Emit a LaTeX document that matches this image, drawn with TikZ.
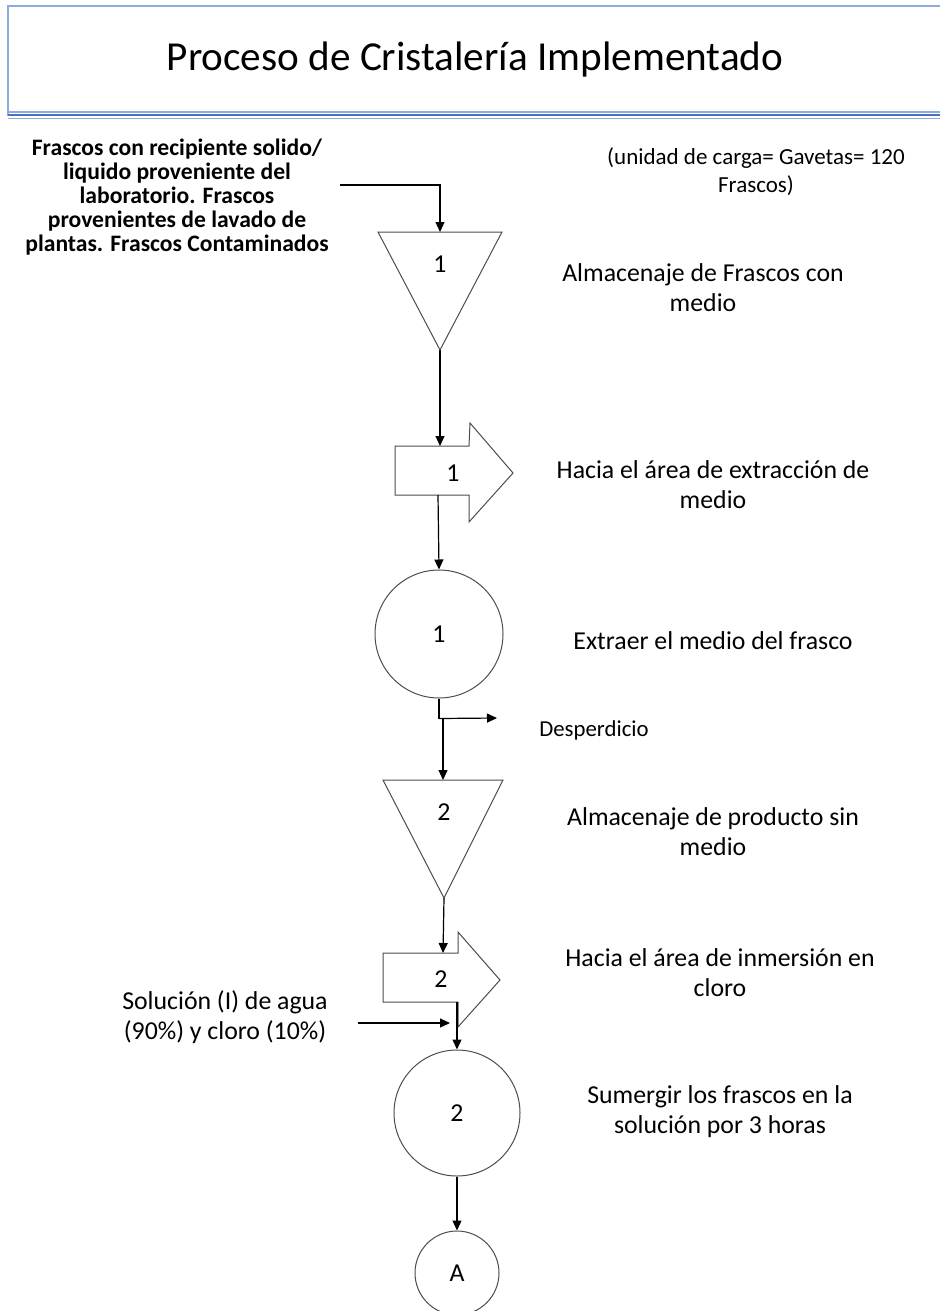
\documentclass[tikz,border=0pt]{standalone}
\usepackage{fontspec}
\setmainfont{Carlito}
\usetikzlibrary{arrows.meta,positioning,calc}
\definecolor{azulclaro}{HTML}{8FAADC}
\definecolor{azul}{HTML}{4472C4}

\begin{document}
\begin{tikzpicture}[x=0.5pt,y=-0.5pt,>={Triangle[length=5pt,width=4.5pt]}]
\tikzstyle{flujo}=[->,line width=0.6pt]
\tikzstyle{figura}=[draw=black!70,line width=0.5pt]
\tikzstyle{operacion}=[circle,draw=black!70,line width=0.5pt,inner sep=0pt,font=\fontsize{12.9}{15}\selectfont]
\tikzstyle{numero}=[font=\fontsize{12.9}{15}\selectfont]
\tikzstyle{etiqueta}=[align=center,font=\fontsize{12.9}{15}\selectfont]

\useasboundingbox (0,0) rectangle (939,1311);

% encabezado
\draw[azulclaro,line width=1pt] (940,6) -- (8,6) -- (8,116);
\draw[azulclaro,line width=0.6pt] (8,112) -- (940,112);
\draw[azul,line width=1pt] (8,115) -- (940,115);
\draw[azulclaro,line width=0.6pt] (8,118.5) -- (940,118.5);
\node (titulo) at (475,60) {\fontsize{20.6}{24}\selectfont Proceso de Cristalería Implementado};

% almacenaje 1
\draw[figura] (378,232) -- (502,232) -- (440,350) -- cycle;
\coordinate (t1top) at (440,232);
\coordinate (t1bot) at (440,350);
\node[numero] (t1) at (440,264) {1};

% transporte 1
\draw[figura] (395,446) -- (469,446) -- (470,423) -- (513,473) -- (469,522) -- (469,495) -- (395,495) -- cycle;
\coordinate (a1top) at (440,446);
\coordinate (a1bot) at (438,495);
\node[numero] (a1) at (453,473) {1};

% operacion 1
\node[operacion,minimum size=64pt] (c1) at (439,634) {1};

% almacenaje 2
\draw[figura] (383,780) -- (503,780) -- (444,898) -- cycle;
\coordinate (t2top) at (443,780);
\coordinate (t2bot) at (444,898);
\node[numero] (t2) at (444,812) {2};

% transporte 2
\draw[figura] (383,953) -- (458,953) -- (458,932) -- (500,980) -- (458,1027) -- (458,1002) -- (383,1002) -- cycle;
\coordinate (a2top) at (443,953);
\coordinate (a2bot) at (457,1002);
\node[numero] (a2) at (441,979) {2};

% operacion 2 y conector
\node[operacion,minimum size=63pt] (c2) at (457,1113) {2};
\node[operacion,minimum size=42pt] (cA) at (457,1273) {A};

% textos
\node[align=center,font=\fontsize{11.8}{12}\selectfont\bfseries] (entrada) at (177,197)
  {Frascos con recipiente solido/\\liquido proveniente del\\laboratorio. Frascos\\provenientes de lavado de\\plantas. Frascos Contaminados};
\node[align=center,font=\fontsize{11.5}{14}\selectfont] (unidad) at (756,172) {(unidad de carga= Gavetas= 120\\Frascos)};
\node[etiqueta] (e1) at (703,288) {Almacenaje de Frascos con\\medio};
\node[etiqueta] (e2) at (713,485) {Hacia el área de extracción de\\medio};
\node[etiqueta] (e3) at (713,641) {Extraer el medio del frasco};
\node[align=center,font=\fontsize{11.4}{13}\selectfont] (desperdicio) at (594,730) {Desperdicio};
\node[etiqueta] (e4) at (713,832) {Almacenaje de producto sin\\medio};
\node[etiqueta] (e5) at (720,973) {Hacia el área de inmersión en\\cloro};
\node[etiqueta] (e6) at (720,1112) {Sumergir los frascos en la\\solución por 3 horas};
\node[etiqueta] (solucion) at (225,1017) {Solución (I) de agua\\(90\%) y cloro (10\%)};

% flujo
\coordinate (inicio) at (340,185);
\coordinate (salida) at (497,718);
\coordinate (cloro) at (358,1023);
\coordinate (cloroin) at (450,1023);
\draw[flujo] (inicio) -| (t1top);
\draw[flujo] (t1bot) -- (a1top);
\draw[flujo] (a1bot) -- (c1.north);
\draw[line width=0.6pt] (c1.south) -- ++(0,20) coordinate (j1) -- ++(4,0) coordinate (j2);
\draw[flujo] (j1) -- (salida);
\draw[flujo] (j2) -- (t2top);
\draw[flujo] (t2bot) -- (a2top);
\draw[flujo] (a2bot) -- (c2.north);
\draw[flujo] (cloro) -- (cloroin);
\draw[flujo] (c2.south) -- (cA.north);
\end{tikzpicture}
\end{document}
